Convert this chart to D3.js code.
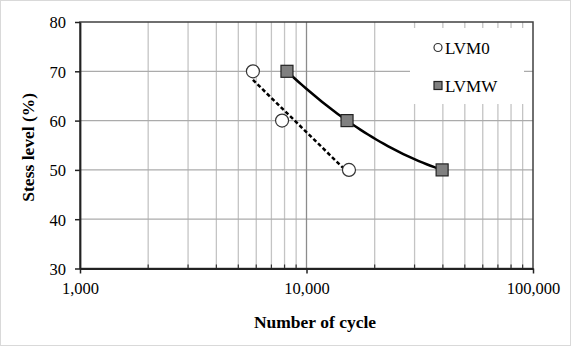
<!DOCTYPE html>
<html>
<head>
<meta charset="utf-8">
<script src="https://cdn.jsdelivr.net/npm/d3@7"></script>
<style>
	body { margin: 0; background: #fff; }
	#chart text { font-family: "Liberation Serif", "Times New Roman", "DejaVu Serif", serif !important; fill: #000; }
</style>
</head>
<body>
<svg id="chart" width="571" height="346"></svg>
<script>
// series
const stressLevels = [70, 60, 50];
const cyclesLVM0 = [5800, 7800, 15400];
const cyclesLVMW = [8200, 15100, 39700];
const seriesNames = ['LVM0', 'LVMW'];
const xTickValues = [1000, 10000, 100000];
const yTickValues = [30, 40, 50, 60, 70, 80];

const svg = d3.select('#chart');
const plotLeft = 80, plotRight = 533, plotTop = 22, plotBottom = 268.5;

const x = d3.scaleLog().domain([1000, 100000]).range([plotLeft, plotRight]);
const y = d3.scaleLinear().domain([30, 80]).range([plotBottom, plotTop]);

// outer frame
svg.append('rect')
	.attr('x', 0.5).attr('y', 0.5).attr('width', 570).attr('height', 345)
	.attr('fill', '#fff').attr('stroke', '#d9d9d9');

// minor verticals: 2..9 per decade
const minorX = [];
for(let d = 1000; d < 100000; d *= 10)
{
	for(let k = 2; k <= 9; k++) minorX.push(d * k);
}

const grid = svg.append('g');
grid.selectAll('line.minor').data(minorX).enter().append('line')
	.attr('x1', (d)=>x(d)).attr('x2', (d)=>x(d))
	.attr('y1', plotTop).attr('y2', plotBottom)
	.attr('stroke', '#c4c4c4').attr('stroke-width', 1.3);

grid.selectAll('line.hz').data(yTickValues.slice(1, -1)).enter().append('line')
	.attr('x1', plotLeft).attr('x2', plotRight)
	.attr('y1', (d)=>y(d)).attr('y2', (d)=>y(d))
	.attr('stroke', '#ababab').attr('stroke-width', 1.3);

grid.append('line')
	.attr('x1', x(10000)).attr('x2', x(10000))
	.attr('y1', plotTop).attr('y2', plotBottom)
	.attr('stroke', '#8c8c8c').attr('stroke-width', 1.3);

// minor ticks pointing up from the x axis
svg.selectAll('line.mtick').data(minorX).enter().append('line')
	.attr('x1', (d)=>x(d)).attr('x2', (d)=>x(d))
	.attr('y1', plotBottom).attr('y2', plotBottom - 4)
	.attr('stroke', '#333').attr('stroke-width', 1.2);

// frame of plot area
svg.append('rect')
	.attr('x', plotLeft).attr('y', plotTop).attr('width', plotRight - plotLeft).attr('height', plotBottom - plotTop)
	.attr('fill', 'none').attr('stroke', '#404040').attr('stroke-width', 1.5);

// axes
const xAxis = d3.axisBottom(x).tickValues(xTickValues).tickFormat(d3.format(',')).tickSizeInner(5).tickSizeOuter(0).tickPadding(6);
const yAxis = d3.axisLeft(y).tickValues(yTickValues).tickSizeInner(5).tickSizeOuter(0).tickPadding(9);

const gx = svg.append('g').attr('transform', `translate(0,${plotBottom})`).call(xAxis);
const gy = svg.append('g').attr('transform', `translate(${plotLeft},0)`).call(yAxis);
[gx, gy].forEach(function(g){
	g.attr('font-family', null);
	g.select('.domain').attr('stroke', '#222').attr('stroke-width', 1.8);
	g.selectAll('.tick line').attr('stroke', '#222').attr('stroke-width', 1.5);
	g.selectAll('.tick text').attr('font-size', '16.5px').attr('fill', '#000');
});
gx.selectAll('.tick text').attr('dy', '0.9em');
gy.selectAll('.tick text').attr('dy', '0.36em');

// axis titles
svg.append('text')
	.attr('x', 315).attr('y', 328)
	.attr('text-anchor', 'middle').attr('font-size', '17.5px').attr('font-weight', 'bold')
	.text('Number of cycle');

svg.append('text')
	.attr('transform', `translate(34,${(plotTop + plotBottom) / 2 + 2}) rotate(-90)`)
	.attr('text-anchor', 'middle').attr('font-size', '17.5px').attr('font-weight', 'bold')
	.text('Stess level (%)');

// legend box, hides the grid underneath
svg.append('rect')
	.attr('x', 410).attr('y', 28).attr('width', 114).attr('height', 76)
	.attr('fill', '#fff');

const lvm0 = cyclesLVM0.map((n, i)=>({n: n, s: stressLevels[i]}));
const lvmw = cyclesLVMW.map((n, i)=>({n: n, s: stressLevels[i]}));

// LVM0: logarithmic trend line, stress = a + b*log10(N)
const u0 = cyclesLVM0.map(Math.log10);
const uMean = d3.mean(u0), sMean = d3.mean(stressLevels);
const slope0 = d3.sum(u0, (u, i)=>(u - uMean) * (stressLevels[i] - sMean)) / d3.sum(u0, (u)=>(u - uMean) * (u - uMean));
const trend0 = d3.extent(u0).map((u)=>({n: Math.pow(10, u), s: sMean + slope0 * (u - uMean)}));

// LVMW: 2nd order polynomial through the points (in log10 N)
const uW = cyclesLVMW.map(Math.log10);
const quad = function(u)
{
	let s = 0;
	for(let i = 0; i < 3; i++)
	{
		let t = stressLevels[i];
		for(let j = 0; j < 3; j++) if(j != i) t *= (u - uW[j]) / (uW[i] - uW[j]);
		s += t;
	}
	return s;
};
const trendW = d3.range(0, 41).map((k)=>{
	const u = uW[0] + (uW[2] - uW[0]) * k / 40;
	return {n: Math.pow(10, u), s: quad(u)};
});

const line = d3.line().x((d)=>x(d.n)).y((d)=>y(d.s));

svg.append('path').attr('d', line(trend0))
	.attr('fill', 'none').attr('stroke', '#000').attr('stroke-width', 2.5).attr('stroke-dasharray', '4,2.5');
svg.append('path').attr('d', line(trendW))
	.attr('fill', 'none').attr('stroke', '#000').attr('stroke-width', 2.5);

svg.selectAll('circle.m').data(lvm0).enter().append('circle')
	.attr('cx', (d)=>x(d.n)).attr('cy', (d)=>y(d.s)).attr('r', 6.5)
	.attr('fill', '#fff').attr('stroke', '#333').attr('stroke-width', 1.2);

svg.selectAll('rect.m').data(lvmw).enter().append('rect')
	.attr('x', (d)=>x(d.n) - 6).attr('y', (d)=>y(d.s) - 6).attr('width', 12).attr('height', 12)
	.attr('fill', '#808080').attr('stroke', '#222').attr('stroke-width', 1.2);

// legend entries
const legend = svg.append('g');
legend.append('circle').attr('cx', 438).attr('cy', 47.5).attr('r', 4)
	.attr('fill', '#fff').attr('stroke', '#333').attr('stroke-width', 1.2);
legend.append('rect').attr('x', 434).attr('y', 81.5).attr('width', 8).attr('height', 8)
	.attr('fill', '#808080').attr('stroke', '#222').attr('stroke-width', 1.2);
legend.selectAll('text').data(seriesNames).enter().append('text')
	.attr('x', 445).attr('y', (d, i)=>48 + i * 38).attr('dy', '0.35em')
	.attr('font-size', '17px')
	.text((d)=>d);
</script>
</body>
</html>
